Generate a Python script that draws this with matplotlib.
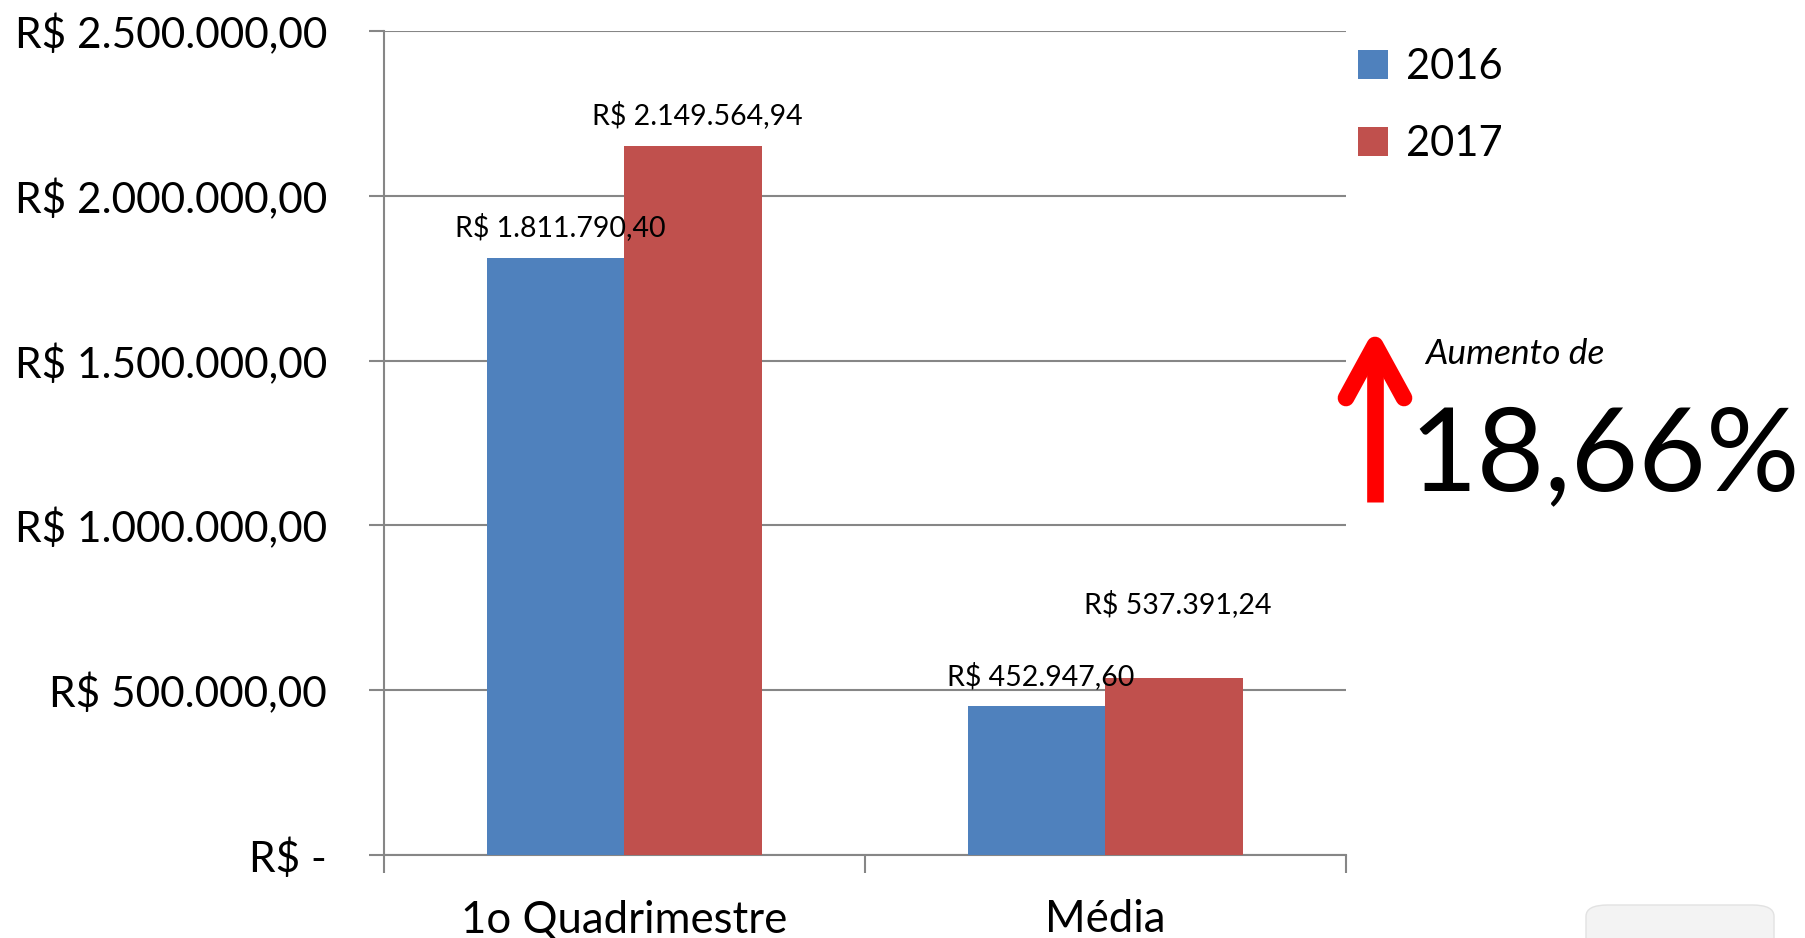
import numpy as np
import matplotlib.pyplot as plt
from matplotlib.lines import Line2D
from matplotlib.patches import FancyBboxPatch

plt.rcParams["font.family"] = ["Lato", "DejaVu Sans"]

# Data
categories = ["1o Quadrimestre", "Média"]
series_names = ["2016", "2017"]
values_2016 = [1811790.40, 452947.60]
values_2017 = [2149564.94, 537391.24]
label_offsets_2016 = [31, 30]   # px above bar top (label centre)
label_offsets_2017 = [31, 74]
colors = ["#4F81BD", "#C0504D"]


def brl(v):
    s = f"{v:,.2f}"
    s = s.replace(",", "X").replace(".", ",").replace("X", ".")
    return "R$ " + s


def brl_tick(v, pos=None):
    if v == 0:
        return "R$ -"
    return brl(v)


fig = plt.figure(figsize=(18.06, 9.38), dpi=100)
ax = fig.add_axes([0.2126, 0.0885, 0.5327, 0.8785])

x = np.arange(len(categories))
bar_width = 0.285

bars16 = ax.bar(x - bar_width / 2, values_2016, bar_width, color=colors[0], label=series_names[0], zorder=3)
bars17 = ax.bar(x + bar_width / 2, values_2017, bar_width, color=colors[1], label=series_names[1], zorder=3)

# value labels
for bars, vals, offs in [(bars16, values_2016, label_offsets_2016), (bars17, values_2017, label_offsets_2017)]:
    for b, v, o in zip(bars, vals, offs):
        ax.annotate(
            brl(v),
            xy=(b.get_x() + b.get_width() / 2, v),
            xytext=(4, o),
            textcoords="offset pixels",
            ha="center",
            va="center",
            fontsize=20.5,
            zorder=5,
        )

ax.set_xlim(-0.5, 1.5)
ax.set_ylim(0, 2500000)
ax.set_yticks(np.arange(0, 2500001, 500000))
ax.yaxis.set_major_formatter(plt.FuncFormatter(brl_tick))
ax.tick_params(axis="y", labelsize=30.5, length=11, color="#868686", pad=30, width=1.5)
ax.yaxis.grid(True, color="#868686", linewidth=1.5, zorder=0)

ax.set_xticks([-0.5, 0.5, 1.5])
ax.set_xticklabels([])
ax.set_xticks(x, minor=True)
ax.set_xticklabels(categories, minor=True)
ax.tick_params(axis="x", which="major", length=13, color="#868686", width=1.5, direction="out")
ax.tick_params(axis="x", which="minor", length=0, labelsize=31.5, pad=32)

for side in ["top", "right"]:
    ax.spines[side].set_visible(False)
for side in ["left", "bottom"]:
    ax.spines[side].set_color("#868686")
    ax.spines[side].set_linewidth(1.5)

# legend
leg = ax.legend(
    loc="upper left",
    bbox_to_anchor=(0.974, 1.025),
    frameon=False,
    fontsize=30,
    handlelength=0.7,
    handleheight=0.7,
    handletextpad=0.45,
    labelspacing=0.95,
)

# red arrow
W, H = 1806, 938
def fx(px):
    return px / W
def fy(py):
    return 1 - py / H

fig.add_artist(Line2D([fx(1375), fx(1375)], [fy(502), fy(360)], solid_capstyle="butt",
                      color="#FF0000", linewidth=12, transform=fig.transFigure))
fig.add_artist(Line2D([fx(1346), fx(1375), fx(1404)], [fy(398), fy(345), fy(398)],
                      color="#FF0000", linewidth=12, solid_capstyle="round",
                      solid_joinstyle="round", transform=fig.transFigure))

fig.text(fx(1425), fy(354), "Aumento de", fontsize=25.5, style="italic", va="center", ha="left")
fig.text(fx(1409), fy(458), "18,66%", fontsize=84, va="center", ha="left")

# logo box at bottom right (partially visible)
box = FancyBboxPatch((fx(1586), fy(960)), fx(188), 55 / H,
                     boxstyle="round,pad=0,rounding_size=0.012",
                     transform=fig.transFigure, facecolor="#F3F3F3", edgecolor="#E2E2E2",
                     linewidth=1)
fig.add_artist(box)

plt.savefig("out.png", dpi=100)
